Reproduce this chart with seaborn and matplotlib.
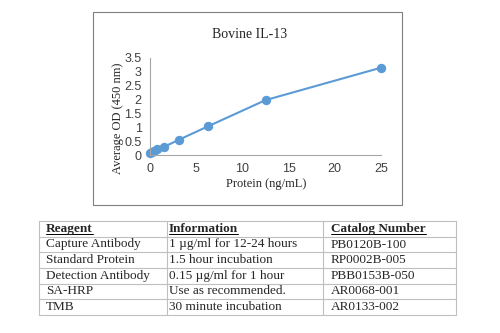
import matplotlib
matplotlib.use("Agg")
import matplotlib.pyplot as plt
import seaborn as sns
import pandas as pd
from matplotlib.lines import Line2D
from matplotlib.patches import Rectangle

# standard curve readings
protein = [0, 0.195, 0.39, 0.78, 1.5625, 3.125, 6.25, 12.5, 25]
od = [0.07, 0.1, 0.14, 0.2, 0.3, 0.55, 1.03, 1.98, 3.15]

x_ticks = [0, 5, 10, 15, 20, 25]
y_ticks = [0, 0.5, 1, 1.5, 2, 2.5, 3, 3.5]
y_tick_labels = ["0", "0.5", "1", "1.5", "2", "2.5", "3", "3.5"]

headers = ["Reagent", "Information", "Catalog Number"]
reagents = ["Capture Antibody", "Standard Protein", "Detection Antibody", "SA-HRP", "TMB"]
info = ["1 \u00b5g/ml for 12-24 hours", "1.5 hour incubation", "0.15 \u00b5g/ml for 1 hour",
        "Use as recommended.", "30 minute incubation"]
catalog = ["PB0120B-100", "RP0002B-005", "PBB0153B-050", "AR0068-001", "AR0133-002"]

sns.set_style("white")
serif = ["Liberation Serif", "DejaVu Serif"]
blue = "#5B9BD5"

W, H = 500, 333
fig = plt.figure(figsize=(5, 3.33), dpi=100)

def fx(px):
    return px / W

def fy(py):
    return 1 - py / H

# chart border
fig.patches.append(Rectangle((fx(93), fy(205)), fx(402) - fx(93), fy(12) - fy(205),
                             transform=fig.transFigure, fill=False, edgecolor="#7f7f7f", lw=0.8))

ax = fig.add_axes([fx(150), fy(155), fx(381) - fx(150), fy(58) - fy(155)])
df = pd.DataFrame({"protein": protein, "od": od})
sns.lineplot(data=df, x="protein", y="od", ax=ax, color=blue, lw=1.5,
             marker="o", markersize=6, markeredgecolor=blue, clip_on=False)
ax.set_xlim(0, 25)
ax.set_ylim(0, 3.5)
ax.set_xticks(x_ticks)
ax.set_yticks(y_ticks)
ax.set_yticklabels(y_tick_labels)
ax.tick_params(axis="both", length=0, labelsize=9, colors="#404040")
ax.tick_params(axis="x", pad=6)
ax.tick_params(axis="y", pad=6)
for lab in ax.get_xticklabels() + ax.get_yticklabels():
    lab.set_fontfamily(["Liberation Sans", "DejaVu Sans"])
ax.set_xlabel("")
ax.set_ylabel("")
for s in ["top", "right"]:
    ax.spines[s].set_visible(False)
for s in ["left", "bottom"]:
    ax.spines[s].set_color("#a6a6a6")
    ax.spines[s].set_linewidth(0.8)

fig.text(fx(250), fy(35), "Bovine IL-13", ha="center", va="center", fontsize=10, family=serif)
fig.text(fx(266), fy(184), "Protein (ng/mL)", ha="center", va="center", fontsize=9, family=serif)
fig.text(fx(118), fy(118), "Average OD (450 nm)", ha="center", va="center", fontsize=9,
         family=serif, rotation=90)

# table
row_lines = [221, 236.7, 252.3, 268, 283.7, 299.3, 315]
col_lines = [39, 167, 323, 456]
col_text = [46, 169, 331]
grid_color = "#bfbfbf"
for yv in row_lines:
    fig.add_artist(Line2D([fx(col_lines[0]), fx(col_lines[-1])], [fy(yv), fy(yv)],
                          color=grid_color, lw=0.8, transform=fig.transFigure))
for xv in col_lines:
    fig.add_artist(Line2D([fx(xv), fx(xv)], [fy(row_lines[0]), fy(row_lines[-1])],
                          color=grid_color, lw=0.8, transform=fig.transFigure))

renderer = fig.canvas.get_renderer()
yc = (row_lines[0] + row_lines[1]) / 2
for xt, h in zip(col_text, headers):
    t = fig.text(fx(xt), fy(yc), h, ha="left", va="center", fontsize=9.5,
                 fontweight="bold", family=serif)
    bb = t.get_window_extent(renderer)
    fig.add_artist(Line2D([bb.x0 / W, bb.x1 / W], [fy(yc + 5.5), fy(yc + 5.5)],
                          color="black", lw=0.7, transform=fig.transFigure))

for i in range(len(reagents)):
    yc = (row_lines[i + 1] + row_lines[i + 2]) / 2
    for xt, txt in zip(col_text, [reagents[i], info[i], catalog[i]]):
        fig.text(fx(xt), fy(yc), txt, ha="left", va="center", fontsize=9.5, family=serif)

fig.savefig("out.png", dpi=100)
